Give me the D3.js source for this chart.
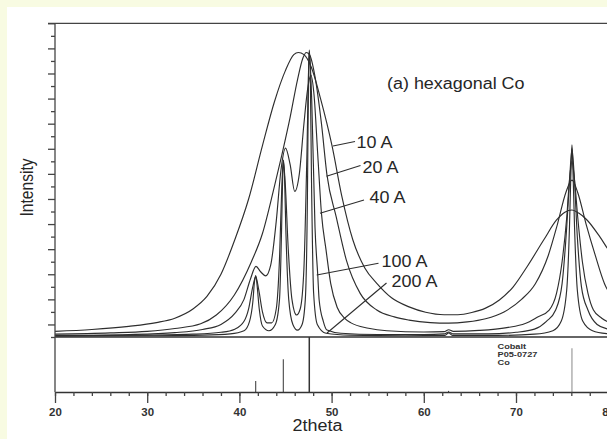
<!DOCTYPE html>
<html><head><meta charset="utf-8">
<script src="https://cdn.jsdelivr.net/npm/d3@7"></script>
<style>
html,body{margin:0;padding:0;background:#f8fbe2;}
svg{display:block;}
</style></head>
<body>
<svg id="chart" width="607" height="439"></svg>
<script>
// ---- data (2theta in degrees, intensity in % of frame height) ----
const sizes = ["10 A", "20 A", "40 A", "100 A", "200 A"];
const curve10 = [[20,1.8],[24,2.4],[28,3.4],[31,4.6],[33,6.0],[35,9.0],[36.5,13],[38,20],[39.5,31],[41,44],[42.5,61],[43.8,75],[45,85],[45.9,90],[46.4,90.7],[47,90],[47.8,86],[48.8,76],[50.05,60.9],[51.1,45],[52.3,31],[53.6,22],[54.9,17.1],[56.5,12.5],[58.4,9.6],[60.2,7.9],[62.2,7.1],[63.7,7.1],[65.2,7.8],[66.7,9.2],[68.2,11.8],[69.7,16],[71.2,22.4],[73.0,30.9],[74.4,37.3],[75.3,39.8],[76.07,40.5],[76.8,39.5],[77.7,37.3],[79.1,31.9],[80.2,27],[81,24]];
const curve20 = [[20,0.9],[26,1.3],[30,1.8],[33,2.7],[35.8,4.2],[37.5,7],[39.45,13.4],[41.3,24],[42.5,33],[43.7,46.8],[44.6,58],[45.5,70],[46.3,82],[46.9,89],[47.25,90.7],[47.6,90],[48.2,83],[48.9,68],[49.5,51.6],[50.5,38.3],[51.6,24.5],[53.1,13.9],[54.9,8.6],[56.8,6.4],[58.4,5.4],[60.7,4.6],[62.7,4.4],[64.7,4.8],[66.7,5.8],[68.7,8],[70.6,12],[72.1,17],[73.5,26],[74.5,36],[75.4,46],[76.07,50],[76.7,46],[77.6,36],[78.6,26],[79.6,17],[80.5,12.5],[81,11]];
const curve40 = [[20,0.5],[28,0.8],[33,1.4],[36,2.4],[38,4],[39.5,7.5],[40.5,12],[41.2,18.5],[41.8,22.5],[42.3,20.8],[42.85,19.5],[43.4,23],[44.0,37],[44.5,53],[45.0,60.2],[45.5,55],[46.0,46.4],[46.5,52],[47.0,68],[47.4,79],[47.75,83.5],[48.1,77],[48.5,58],[48.9,39.4],[49.4,27.7],[49.9,17.1],[50.6,9.5],[51.4,6],[52.1,4.5],[54,2.8],[56,2.0],[60,1.6],[62.2,1.7],[62.7,2.3],[63.2,1.8],[66,2.1],[69,3.0],[71,4.3],[72.3,6.3],[73.6,8.6],[74.4,14],[75.0,24],[75.5,38],[75.8,50],[76.07,56],[76.35,50],[76.7,38],[77.2,24],[77.8,14],[78.4,8.6],[79.3,6],[80.3,4.5],[81,4]];
const curve100 = [[20,0.4],[30,0.6],[35,0.9],[38,1.5],[39.5,2.5],[40.5,5],[41.0,9],[41.45,16],[41.77,19.3],[42.1,15],[42.5,8],[43.0,4.5],[43.5,4.5],[44.0,9],[44.35,25],[44.6,48],[44.76,56],[44.95,50],[45.3,28],[45.7,12],[46.2,7],[46.6,9],[47.0,22],[47.3,55],[47.58,91],[47.85,75],[48.2,35],[48.5,19.7],[48.65,11.8],[49.1,5],[49.5,2.2],[51,1.2],[55,0.8],[60,0.8],[62.2,1.0],[62.7,1.6],[63.2,1.0],[67,1.0],[70,1.5],[72,2.5],[73.3,5],[74.3,8.6],[75.0,17],[75.5,35],[75.85,52],[76.07,60],[76.3,52],[76.65,32],[77.1,16],[77.8,8.6],[78.8,4],[80,2.5],[81,2]];
const curve200 = [[20,0.3],[30,0.4],[36,0.6],[39,1.0],[40.5,2.0],[41.1,5],[41.45,11],[41.65,18],[41.77,19.6],[41.9,17],[42.15,9],[42.5,3.5],[43.2,2.0],[43.9,4],[44.35,12],[44.58,35],[44.7,52],[44.78,56.5],[44.88,52],[45.05,33],[45.35,12],[45.8,4],[46.3,2.2],[46.8,4],[47.15,12],[47.38,45],[47.5,85],[47.58,91.5],[47.68,85],[47.82,50],[48.05,14],[48.45,4],[49.4,1.2],[52,0.6],[58,0.4],[62.3,0.5],[62.7,1.3],[63.1,0.5],[68,0.5],[72,0.9],[74,2],[74.9,5],[75.5,15],[75.8,35],[75.98,55],[76.07,61.3],[76.16,55],[76.35,35],[76.65,15],[77.25,5],[78.3,2],[80,1],[81,0.8]];
const curves = [curve10, curve20, curve40, curve100, curve200];
// reference card sticks (2theta, relative intensity)
const stickPos = [41.77, 44.76, 47.58, 62.69, 76.07];
const stickInt = [20, 59.5, 100, 2, 79.5];
const xTicksMajor = [20, 30, 40, 50, 60, 70, 80];
const title = "(a) hexagonal Co";
const cardLines = ["Cobalt", "P05-0727", "Co"];
const xLabel = "2theta";
const yLabel = "Intensity";

// ---- layout ----
const svg = d3.select("#chart");
const SX = 1.15; // horizontal stretch of glyphs in the reference
const L = 55, T = 23.3, BASE = 337, AX = 392, R = 608.2;
const x = d3.scaleLinear().domain([20, 80]).range([L, R]);
const y = d3.scaleLinear().domain([0, 100]).range([BASE, T]);
const ys = d3.scaleLinear().domain([0, 100]).range([AX, BASE]);
const ink = "#2e2e2e";

svg.append("rect").attr("x", 7).attr("y", 7).attr("width", 600).attr("height", 432).attr("fill", "#ffffff");

svg.append("defs").append("clipPath").attr("id", "clip")
  .append("rect").attr("x", L).attr("y", T).attr("width", 607 - L).attr("height", BASE - T);

// curves
const line = d3.line().x(d => x(d[0])).y(d => y(d[1])).curve(d3.curveMonotoneX);
svg.append("g").attr("clip-path", "url(#clip)")
  .selectAll("path").data(curves).join("path")
  .attr("d", line).attr("fill", "none").attr("stroke", ink).attr("stroke-width", 1.15)
  .attr("stroke-linejoin", "round");

// frame lines
svg.append("line").attr("x1", 48).attr("x2", 607).attr("y1", T).attr("y2", T).attr("stroke", "#444").attr("stroke-width", 1.2);
svg.append("line").attr("x1", L).attr("x2", 607).attr("y1", BASE).attr("y2", BASE).attr("stroke", "#333").attr("stroke-width", 1.4);

// left axis (ticks only)
const yTicks = d3.range(0, 100.01, 4);
const yAxis = d3.axisLeft(y).tickValues(yTicks).tickFormat("").tickSizeOuter(0)
  .tickSize(5);
const gy = svg.append("g").attr("transform", `translate(${L},0)`).call(yAxis);
gy.select(".domain").remove();
gy.selectAll(".tick line").attr("stroke", "#444").attr("stroke-width", 1.3)
  .attr("x2", (d, i) => (i % 2 === 1 ? -7 : -4));
svg.append("line").attr("x1", L).attr("x2", L).attr("y1", T).attr("y2", AX).attr("stroke", "#444").attr("stroke-width", 1.3);

// sticks panel
svg.append("g").selectAll("line").data(stickPos).join("line")
  .attr("x1", d => x(d)).attr("x2", d => x(d))
  .attr("y1", AX).attr("y2", (d, i) => ys(stickInt[i]))
  .attr("stroke", (d, i) => i === 4 ? "#888" : "#333")
  .attr("stroke-width", (d, i) => i === 2 ? 1.5 : 1);

// bottom axis
const gxMinor = svg.append("g").attr("transform", `translate(0,${AX})`)
  .call(d3.axisBottom(x).tickValues(d3.range(20, 81, 2)).tickFormat("").tickSize(4).tickSizeOuter(0));
gxMinor.selectAll(".tick line").attr("stroke", "#444").attr("stroke-width", 1.3);
gxMinor.select(".domain").attr("stroke", "#333").attr("stroke-width", 1.3);
const gx = svg.append("g").attr("transform", `translate(0,${AX})`)
  .call(d3.axisBottom(x).tickValues(xTicksMajor).tickSize(11).tickSizeOuter(0).tickPadding(4));
gx.select(".domain").remove();
gx.selectAll(".tick line").attr("stroke", "#444").attr("stroke-width", 1.3);
gx.selectAll(".tick text").attr("font-family", "Liberation Sans, Arial, sans-serif")
  .attr("font-weight", "bold").attr("font-size", 10).attr("fill", "#333")
  .attr("y", 0).attr("dy", 0).attr("transform", `translate(0,23.7) scale(${SX},1)`);

// text helper
function txt(s, tx, ty, size, opts = {}) {
  return svg.append("text").text(s)
    .attr("transform", `translate(${tx},${ty}) ${opts.rot ? "rotate(-90)" : ""} scale(${opts.rot ? 1 : SX},${opts.rot ? SX : 1})`)
    .attr("font-family", "Liberation Sans, Arial, sans-serif")
    .attr("font-size", size).attr("font-weight", opts.bold ? "bold" : "normal")
    .attr("text-anchor", opts.anchor || "start").attr("fill", opts.fill || "#262626");
}

txt(title, 387, 89, 15.6);
txt(xLabel, 317.5, 431, 15.6, {anchor: "middle"});
txt(yLabel, 33, 187.5, 15.6, {anchor: "middle", rot: true});
cardLines.forEach((s, i) => txt(s, 497.5, 348.5 + i * 8, 8, {bold: true, fill: "#333"}));

// size labels with leader lines
const labelPos = [[356.5, 147.5], [362.5, 173.3], [369.5, 202.7], [381.5, 266.7], [391.5, 287.3]];
const leaders = [[[333, 146], [355, 141.5]], [[326.5, 176.3], [360.5, 165.5]], [[320, 213.3], [364, 200]],
                 [[316.7, 275], [378.5, 263.3]], [[386.5, 283], [327, 333]]];
svg.append("g").selectAll("line").data(leaders).join("line")
  .attr("x1", d => d[0][0]).attr("y1", d => d[0][1]).attr("x2", d => d[1][0]).attr("y2", d => d[1][1])
  .attr("stroke", ink).attr("stroke-width", 1.1);
sizes.forEach((s, i) => txt(s, labelPos[i][0], labelPos[i][1], 15.6));
</script>
</body></html>
